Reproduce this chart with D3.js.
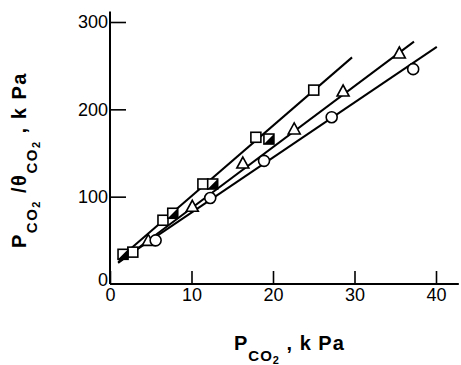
<!DOCTYPE html>
<html><head><meta charset="utf-8">
<script src="https://cdn.jsdelivr.net/npm/d3@7"></script>
<style>body{margin:0;background:#fff}svg{display:block}</style>
</head><body>
<script>
// Data (P_CO2 in kPa, P_CO2/theta_CO2 in kPa)
const squaresOpen = [[2.8,36.5],[6.5,73],[11.4,114.5],[17.9,168],[25.0,222]];
const squaresHalf = [[1.6,34],[7.7,81],[12.6,114.5],[19.5,166]];
const triangles = [[4.7,50],[10.1,89],[16.3,138.5],[22.6,177.5],[28.6,221],[35.5,264.5]];
const circles = [[5.6,50],[12.3,98.5],[18.9,141],[27.2,191],[37.2,246]];
const lineSquares = [[1.0,28],[29.7,259.5]];
const lineTriangles = [[1.0,24],[37.3,277.5]];
const lineCircles = [[1.0,25],[40.1,271.5]];
const xTicks = [0,10,20,30,40];
const yTicks = [0,100,200,300];

const W=461,H=365;
const svg=d3.select("body").append("svg").attr("width",W).attr("height",H);
const x=d3.scaleLinear().domain([0,40]).range([110,436]);
const y=d3.scaleLinear().domain([0,300]).range([284,22]);
const font="'Liberation Sans', Arial, sans-serif";

// axes lines
svg.append("line").attr("x1",x(0)).attr("x2",x(42.8)).attr("y1",y(0)).attr("y2",y(0)).attr("stroke","#000").attr("stroke-width",2);
svg.append("line").attr("x1",x(0)).attr("x2",x(0)).attr("y1",y(0)).attr("y2",y(312)).attr("stroke","#000").attr("stroke-width",2);

const xa=d3.axisBottom(x).tickValues(xTicks).tickSize(0).tickPadding(4).tickFormat(d3.format("d"));
const gx=svg.append("g").attr("transform",`translate(0,${y(0)})`).call(xa);
gx.select(".domain").remove();
gx.selectAll("text").attr("font-family",font).attr("font-size",18).attr("fill","#000");
gx.selectAll(".tick").append("line").attr("y1",0).attr("y2",-13).attr("stroke","#000").attr("stroke-width",1.6);

const ya=d3.axisLeft(y).tickValues(yTicks).tickSize(0).tickPadding(2).tickFormat(d3.format("d"));
const gy=svg.append("g").attr("transform",`translate(${x(0)},0)`).call(ya);
gy.select(".domain").remove();
gy.selectAll("text").attr("font-family",font).attr("font-size",18).attr("fill","#000");
gy.selectAll(".tick").filter(d=>d===0).select("text").attr("dy","0.1em");
gy.selectAll(".tick").filter(d=>d>0).append("line").attr("x1",0).attr("x2",16).attr("stroke","#000").attr("stroke-width",1.6);

// fitted lines
const lg=d3.line().x(d=>x(d[0])).y(d=>y(d[1]));
[lineSquares,lineTriangles,lineCircles].forEach(l=>{
  svg.append("path").attr("d",lg(l)).attr("fill","none").attr("stroke","#000").attr("stroke-width",2);
});

// markers
const s=5;
svg.selectAll(".sq").data(squaresOpen).join("rect")
  .attr("x",d=>x(d[0])-s).attr("y",d=>y(d[1])-s).attr("width",2*s).attr("height",2*s)
  .attr("fill","#fff").attr("stroke","#000").attr("stroke-width",1.6);
const hs=svg.selectAll(".hs").data(squaresHalf).join("g").attr("transform",d=>`translate(${x(d[0])},${y(d[1])})`);
hs.append("rect").attr("x",-s).attr("y",-s).attr("width",2*s).attr("height",2*s).attr("fill","#fff").attr("stroke","#000").attr("stroke-width",1.6);
hs.append("path").attr("d",`M${s},${-s}L${s},${s}L${-s},${s}Z`).attr("fill","#000");
svg.selectAll(".tr").data(triangles).join("path")
  .attr("transform",d=>`translate(${x(d[0])},${y(d[1])})`)
  .attr("d","M0,-6L6,5L-6,5Z").attr("fill","#fff").attr("stroke","#000").attr("stroke-width",1.6);
svg.selectAll(".ci").data(circles).join("circle")
  .attr("cx",d=>x(d[0])).attr("cy",d=>y(d[1])).attr("r",5.5)
  .attr("fill","#fff").attr("stroke","#000").attr("stroke-width",1.6);

// axis titles
const xt=svg.append("text").attr("x",234).attr("y",350).attr("font-family",font).attr("font-weight","bold").attr("font-size",20).attr("letter-spacing",1);
xt.append("tspan").text("P");
xt.append("tspan").attr("dy",11).attr("font-size",15).text("CO");
xt.append("tspan").attr("dy",3).attr("font-size",11).text("2");
xt.append("tspan").attr("dy",-14).text(" ,  k Pa");

const yt=svg.append("text").attr("transform","translate(26,248) rotate(-90)").attr("font-family",font).attr("font-weight","bold").attr("font-size",20).attr("letter-spacing",1.5);
yt.append("tspan").text("P");
yt.append("tspan").attr("dy",11).attr("font-size",15).text("CO");
yt.append("tspan").attr("dy",3).attr("font-size",11).text("2");
yt.append("tspan").attr("dy",-14).text("  /θ");
yt.append("tspan").attr("dy",11).attr("font-size",15).text("CO");
yt.append("tspan").attr("dy",3).attr("font-size",11).text("2");
yt.append("tspan").attr("dy",-14).text(" ,  k Pa");
</script>
</body></html>
